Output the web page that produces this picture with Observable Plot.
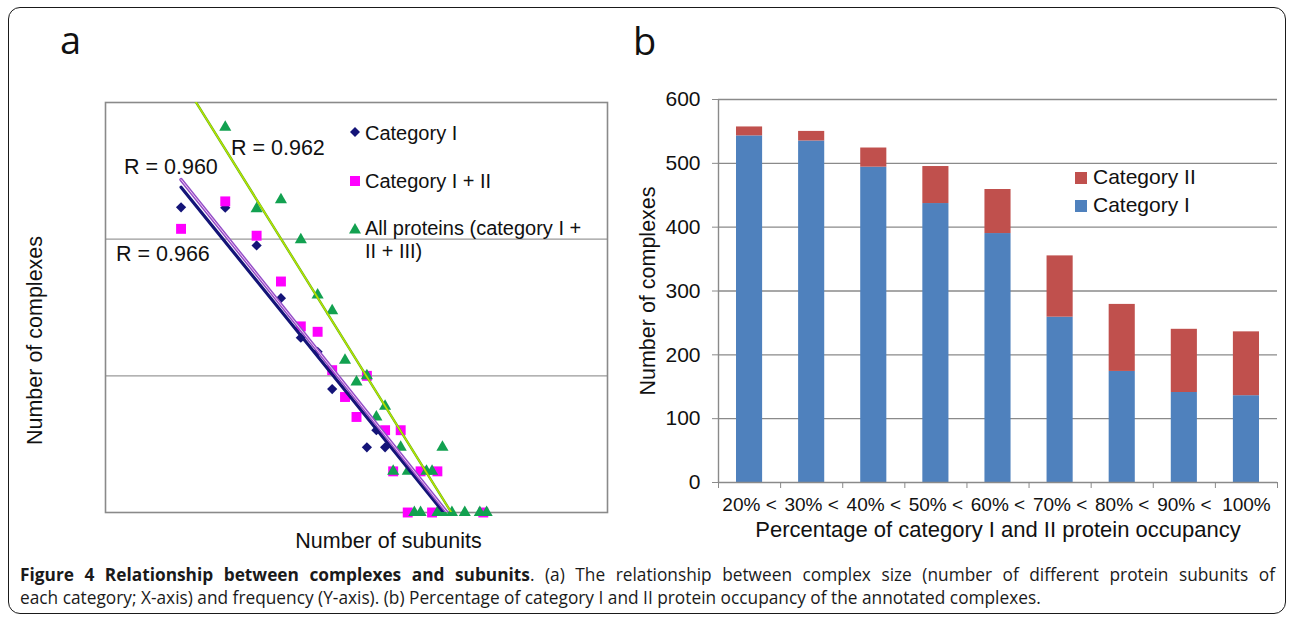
<!DOCTYPE html>
<html><head><meta charset="utf-8">
<script src="https://cdn.jsdelivr.net/npm/d3@7"></script>
<script src="https://cdn.jsdelivr.net/npm/@observablehq/plot@0.6"></script>
<style>
html,body{margin:0;padding:0;background:#fff;}
#root{position:relative;width:1292px;height:623px;overflow:hidden;font-family:"Liberation Sans",Arial,sans-serif;color:#111;}
.abs{position:absolute;white-space:nowrap;line-height:1;}
#border{position:absolute;left:8px;top:7px;width:1278px;height:607px;border:1.6px solid #1a1a1a;border-radius:12px;box-sizing:border-box;}
.plabel{position:absolute;font-family:"Open Sans",sans-serif;font-size:38px;line-height:1;color:#111;}
.cap{position:absolute;left:20px;width:1255px;font-family:"Open Sans",sans-serif;font-size:17.3px;line-height:1;color:#1a1a1a;white-space:nowrap;}
.sw{position:absolute;width:12px;height:12px;}
</style></head>
<body><div id="root">
<div id="border"></div>
<div class="plabel" style="left:60px;top:20px;">a</div>
<div class="plabel" style="left:633px;top:21px;">b</div>
<div id="pa" style="position:absolute;left:0;top:60px;"></div>
<div id="pb" style="position:absolute;left:640px;top:80px;"></div>

<!-- panel a: R labels -->
<div class="abs" style="left:231px;top:138px;font-size:21.5px;" id="r2"></div>
<div class="abs" style="left:124px;top:157px;font-size:21.5px;" id="r1"></div>
<div class="abs" style="left:116px;top:244px;font-size:21.5px;" id="r0"></div>

<!-- panel a legend -->
<svg class="abs" style="left:349px;top:126px" width="12" height="12"><path d="M6,1L11,6L6,11L1,6Z" fill="#141478"/></svg>
<svg class="abs" style="left:350px;top:176px" width="10" height="10"><rect width="10" height="10" fill="#ff00ff"/></svg>
<svg class="abs" style="left:349px;top:222px" width="12" height="12"><path d="M6,1L12,11.5L0,11.5Z" fill="#12a150"/></svg>
<div class="abs" style="left:365px;top:123px;font-size:20px;" id="la0"></div>
<div class="abs" style="left:365px;top:171px;font-size:20px;" id="la1"></div>
<div class="abs" style="left:365px;top:218px;font-size:20px;" id="la2"></div>
<div class="abs" style="left:365px;top:241px;font-size:20px;" id="la3"></div>

<!-- panel b legend -->
<div class="sw" style="left:1075px;top:172px;background:#c0504d;"></div>
<div class="sw" style="left:1075px;top:200px;background:#4f81bd;"></div>
<div class="abs" style="left:1093px;top:166px;font-size:21px;" id="lb1"></div>
<div class="abs" style="left:1093px;top:194px;font-size:21px;" id="lb0"></div>

<div class="cap" style="top:566px;text-align:justify;text-align-last:justify;"><b>Figure 4 Relationship between complexes and subunits</b>. (a) The relationship between complex size (number of different protein subunits of</div>
<div class="cap" style="top:589px;">each category; X-axis) and frequency (Y-axis). (b) Percentage of category I and II protein occupancy of the annotated complexes.</div>
</div>
<script>
// ---------- Panel a data (log-log scatter) ----------
const subunitsCatI = [2, 3, 4, 5, 6, 7, 8, 11, 12, 13];
const complexesCatI = [171, 170, 90, 37, 19, 15, 8, 3, 4, 3];
const subunitsCatI_II = [2, 3, 4, 5, 6, 7, 8, 9, 10, 11, 13, 15, 14, 18, 21, 16, 20, 32];
const complexesCatI_II = [119, 189, 106, 49, 23, 21, 11, 7, 5, 10, 4, 4, 2, 2, 2, 1, 1, 1];
const subunitsAll = [3, 4, 5, 6, 7, 8, 9, 10, 11, 12, 13, 15, 22, 14, 16, 19, 20, 17, 18, 21, 22, 24, 27, 31, 33];
const complexesAll = [659, 167, 194, 99, 39, 30, 13, 9, 10, 5, 6, 3, 3, 2, 2, 2, 2, 1, 1, 1, 1, 1, 1, 1, 1];
const seriesNamesA = ["Category I", "Category I + II", "All proteins (category I +", "II + III)"];
// power-law trendlines: complexes = 10^logA * subunits^slope
const trendLogA = [3.065, 3.128, 4.066];
const trendSlope = [-2.275, -2.299, -2.951];
const trendFrom = [2, 2, 2];
const trendTo = [22, 23, 24];
const trendR = ["R = 0.966", "R = 0.960", "R = 0.962"];
const gridA = [10, 100];
const axisTitlesA = ["Number of subunits", "Number of complexes"];

// ---------- Panel b data (stacked bars) ----------
const occupancy = ["20% <", "30% <", "40% <", "50% <", "60% <", "70% <", "80% <", "90% <", "100%"];
const categoryI = [543, 535, 494, 437, 390, 259, 174, 141, 136];
const categoryII = [14, 15, 30, 58, 69, 96, 105, 99, 100];
const yTicksB = [0, 100, 200, 300, 400, 500, 600];
const seriesNamesB = ["Category I", "Category II"];
const axisTitlesB = ["Percentage of category I and II protein occupancy", "Number of complexes"];

const FONT = "Liberation Sans, Arial, sans-serif";
const NAVY = "#141478", MAGENTA = "#ff00ff", GREEN = "#12a150";
const BLUE = "#4f81bd", RED = "#c0504d", GRID = "#8a8a8a";

const pts = (xs, ys) => xs.map((x, i) => ({x, y: ys[i]}));
const trend = k => [trendFrom[k], trendTo[k]].map(x => ({x, y: 10 ** (trendLogA[k] + trendSlope[k] * Math.log10(x))}));

const plotA = Plot.plot({
  width: 640, height: 500,
  marginLeft: 105, marginRight: 33, marginTop: 42, marginBottom: 48,
  x: {type: "log", domain: [1, 100], axis: null},
  y: {type: "log", domain: [1, 1000], axis: null},
  style: {fontFamily: FONT, color: "#111", background: "transparent", overflow: "visible"},
  marks: [
    Plot.ruleY(gridA, {stroke: "#9a9a9a", strokeWidth: 1.3}),
    Plot.frame({stroke: GRID, strokeWidth: 1.6}),
    Plot.dot(pts(subunitsCatI, complexesCatI), {x: "x", y: "y", symbol: "diamond2", r: 4.6, fill: NAVY}),
    Plot.dot(pts(subunitsCatI_II, complexesCatI_II), {x: "x", y: "y", symbol: "square", r: 5.6, fill: MAGENTA}),
    Plot.dot(pts(subunitsAll, complexesAll), {x: "x", y: "y", symbol: "triangle", r: 4.5, fill: GREEN}),
    Plot.line(trend(0), {x: "x", y: "y", stroke: NAVY, strokeWidth: 3.2, clip: true}),
    Plot.line(trend(1), {x: "x", y: "y", stroke: "#9450c8", strokeWidth: 3.6, clip: true}),
    Plot.line(trend(1), {x: "x", y: "y", stroke: "#f4c8f4", strokeWidth: 1, clip: true}),
    Plot.line(trend(2), {x: "x", y: "y", stroke: "#5fae1e", strokeWidth: 2.4, clip: true}),
    Plot.line(trend(2), {x: "x", y: "y", stroke: "#b8e400", strokeWidth: 1.4, clip: true}),
    Plot.text([axisTitlesA[0]], {text: d => d, frameAnchor: "bottom", textAnchor: "middle", dx: 32, dy: 35, fontSize: 21.5, fill: "#111"}),
    Plot.text([axisTitlesA[1]], {text: d => d, frameAnchor: "left", textAnchor: "middle", dx: -70, dy: 33, rotate: -90, fontSize: 21.5, fill: "#111"})
  ]
});
document.getElementById("pa").appendChild(plotA);

const rowsI = occupancy.map((c, i) => ({x1: i, x2: i + 1, y1: 0, y2: categoryI[i]}));
const rowsII = occupancy.map((c, i) => ({x1: i, x2: i + 1, y1: categoryI[i], y2: categoryI[i] + categoryII[i]}));

const plotB = Plot.plot({
  width: 650, height: 480,
  marginLeft: 78, marginRight: 13, marginTop: 19, marginBottom: 78,
  x: {type: "linear", domain: [0, occupancy.length]},
  y: {domain: [0, 600]},
  style: {fontFamily: FONT, color: "#111", background: "transparent", overflow: "visible"},
  marks: [
    Plot.gridY(yTicksB.slice(1), {stroke: GRID, strokeOpacity: 1, strokeWidth: 1.4}),
    Plot.rectY(rowsI, {x1: "x1", x2: "x2", y1: "y1", y2: "y2", fill: BLUE, insetLeft: 18, insetRight: 18}),
    Plot.rectY(rowsII, {x1: "x1", x2: "x2", y1: "y1", y2: "y2", fill: RED, insetLeft: 18, insetRight: 18}),
    Plot.ruleY([0], {stroke: GRID, strokeWidth: 1.4}),
    Plot.ruleX([0], {stroke: GRID, strokeWidth: 1.4}),
    Plot.axisY({ticks: yTicksB, tickSize: 6, tickPadding: 12, fontSize: 21, stroke: GRID, fill: "#111", label: null}),
    Plot.axisX({ticks: d3.range(occupancy.length + 1), tickSize: 6, tickFormat: () => "", stroke: GRID, label: null}),
    Plot.axisX({ticks: occupancy.map((_, i) => i + 0.5), tickSize: 0, tickPadding: 15, tickFormat: d => occupancy[Math.floor(d)], fontSize: 19, fill: "#111", label: null}),
    Plot.text([axisTitlesB[1]], {text: d => d, frameAnchor: "left", textAnchor: "middle", dx: -70, rotate: -90, fontSize: 21.5, fill: "#111"}),
    Plot.text([axisTitlesB[0]], {text: d => d, frameAnchor: "bottom", textAnchor: "middle", dy: 54.5, fontSize: 22, fill: "#111"})
  ]
});
document.getElementById("pb").appendChild(plotB);

// HTML texts from arrays
trendR.forEach((t, k) => document.getElementById("r" + k).textContent = t);
seriesNamesA.forEach((t, k) => document.getElementById("la" + k).textContent = t);
seriesNamesB.forEach((t, k) => document.getElementById("lb" + k).textContent = t);
</script>
</body></html>
